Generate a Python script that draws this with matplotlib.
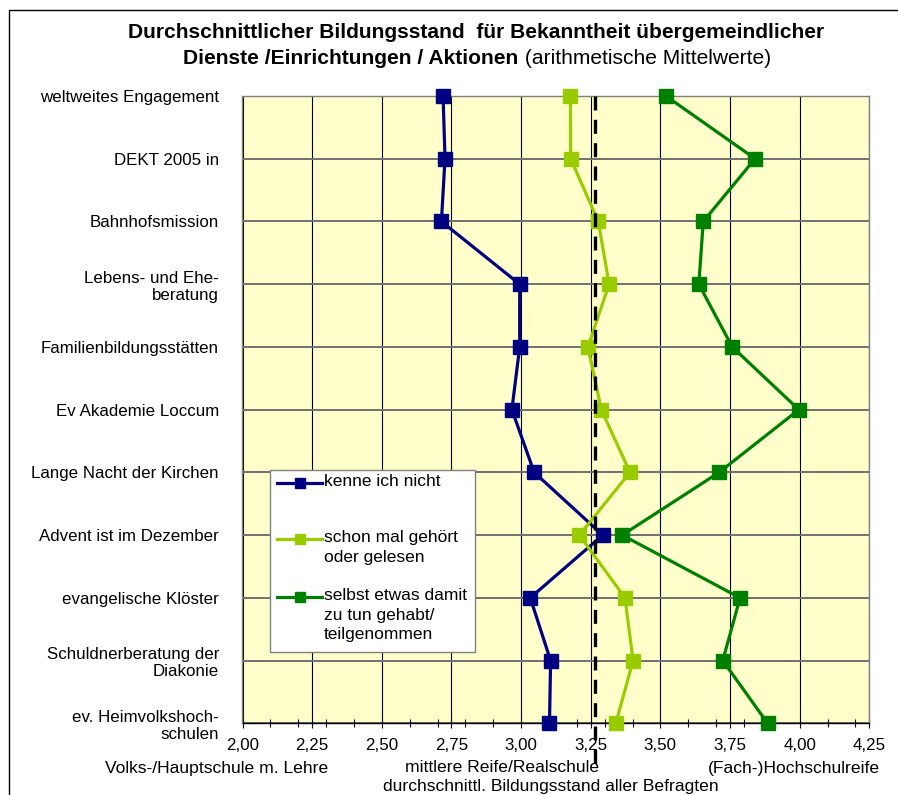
import matplotlib
matplotlib.use("Agg")
import matplotlib.pyplot as plt
from matplotlib.patches import Rectangle
from matplotlib.lines import Line2D
import numpy as np

plt.rcParams['font.family'] = ['Liberation Sans', 'DejaVu Sans']

categories = [
    "weltweites Engagement",
    "DEKT 2005 in",
    "Bahnhofsmission",
    "Lebens- und Ehe-\nberatung",
    "Familienbildungsstätten",
    "Ev Akademie Loccum",
    "Lange Nacht der Kirchen",
    "Advent ist im Dezember",
    "evangelische Klöster",
    "Schuldnerberatung der\nDiakonie",
    "ev. Heimvolkshoch-\nschulen",
]
kenne_nicht = [2.72, 2.727, 2.714, 2.995, 2.995, 2.967, 3.047, 3.293, 3.033, 3.106, 3.102]
schon_gehoert = [3.177, 3.178, 3.277, 3.316, 3.24, 3.288, 3.391, 3.209, 3.373, 3.402, 3.34]
selbst_getan = [3.52, 3.84, 3.654, 3.638, 3.758, 3.997, 3.711, 3.363, 3.786, 3.724, 3.885]
series_labels = ["kenne ich nicht", "schon mal gehört\noder gelesen",
                 "selbst etwas damit\nzu tun gehabt/\nteilgenommen"]
series_colors = ["#000080", "#99CC00", "#008000"]
mean_all = 3.264
x_ticks = [2.00, 2.25, 2.50, 2.75, 3.00, 3.25, 3.50, 3.75, 4.00, 4.25]
x_tick_labels = ["2,00", "2,25", "2,50", "2,75", "3,00", "3,25", "3,50", "3,75", "4,00", "4,25"]

W, H = 898, 795
fig = plt.figure(figsize=(W / 100, H / 100), dpi=100)

def fx(px):
    return px / W

def fy(py):
    return 1 - py / H

# outer chart frame
fig.patches.append(Rectangle((fx(9), -0.1), 1.2, fy(10) + 0.1, transform=fig.transFigure,
                             fill=False, edgecolor='black', linewidth=1.0))

ax = fig.add_axes([fx(242.5), fy(723.3), fx(869.3) - fx(242.5), fy(96) - fy(723.3)])
ax.set_facecolor('#FFFFCC')
ypos = np.arange(len(categories))
ax.set_xlim(2.0, 4.25)
ax.set_ylim(len(categories) - 1, 0)

for v in x_ticks:
    ax.axvline(v, color='black', linewidth=0.8, zorder=1)
for y in ypos:
    ax.axhline(y, color='#707070', linewidth=1.4, zorder=1)

for vals, col in zip([kenne_nicht, schon_gehoert, selbst_getan], series_colors):
    ax.plot(vals, ypos, color=col, linewidth=2.3, marker='s', markersize=10,
            markeredgecolor=col, zorder=4, clip_on=False)

ax.plot([mean_all, mean_all], [1.0, -0.075], transform=ax.get_xaxis_transform(),
        color='black', linewidth=2.4, dashes=(4.2, 2.8), zorder=5, clip_on=False)

ax.set_xticks(x_ticks)
ax.set_xticklabels(x_tick_labels, fontsize=12.2)
ax.set_xticks(np.arange(2.1, 4.2001, 0.1), minor=True)
ax.tick_params(axis='x', which='major', direction='inout', length=7, width=0.8, pad=7)
ax.tick_params(axis='x', which='minor', direction='inout', length=6, width=0.8)
ax.set_yticks(ypos)
ax.set_yticklabels(categories, fontsize=12.2)
ax.tick_params(axis='y', length=0, pad=17)
for s in ax.spines.values():
    s.set_color('#808080')
    s.set_linewidth(1.0)
ax.spines['bottom'].set_color('black')

# title
TFS = 15.1
fig.text(fx(476.5), fy(33), "Durchschnittlicher Bildungsstand  für Bekanntheit übergemeindlicher",
         ha='center', va='center', fontsize=TFS, fontweight='bold')
t_bold = fig.text(0, fy(58), "Dienste /Einrichtungen / Aktionen", ha='left', va='center',
                  fontsize=TFS, fontweight='bold')
t_norm = fig.text(0, fy(58), " (arithmetische Mittelwerte)", ha='left', va='center',
                  fontsize=TFS)
fig.canvas.draw()
r = fig.canvas.get_renderer()
wb = t_bold.get_window_extent(r).width
wn = t_norm.get_window_extent(r).width
start = 477 - (wb + wn) / 2
t_bold.set_x(fx(start))
t_norm.set_x(fx(start + wb))

# axis annotation texts
BFS = 12.6
fig.text(fx(217), fy(768), "Volks-/Hauptschule m. Lehre", ha='center', va='center', fontsize=BFS)
fig.text(fx(502), fy(768), "mittlere Reife/Realschule", ha='center', va='center', fontsize=BFS)
fig.text(fx(880), fy(768), "(Fach-)Hochschulreife", ha='right', va='center', fontsize=BFS)
fig.text(fx(551), fy(786), "durchschnittl. Bildungsstand aller Befragten", ha='center',
         va='center', fontsize=BFS)

# legend box
fig.patches.append(Rectangle((fx(270), fy(652)), fx(475) - fx(270), fy(470) - fy(652),
                             transform=fig.transFigure, facecolor='white',
                             edgecolor='#808080', linewidth=1.0, zorder=6))
row_y = [483, 539, 597]
for lab, col, yy in zip(series_labels, series_colors, row_y):
    fig.lines.append(Line2D([fx(277), fx(322)], [fy(yy), fy(yy)], transform=fig.transFigure,
                            color=col, linewidth=2.3, zorder=7))
    fig.lines.append(Line2D([fx(299.5)], [fy(yy)], transform=fig.transFigure, color=col,
                            marker='s', markersize=7, zorder=7))
    fig.text(fx(324), fy(yy - 9), lab, ha='left', va='top', fontsize=12.5,
             linespacing=1.38, zorder=8)

fig.savefig("out.png", dpi=100)
